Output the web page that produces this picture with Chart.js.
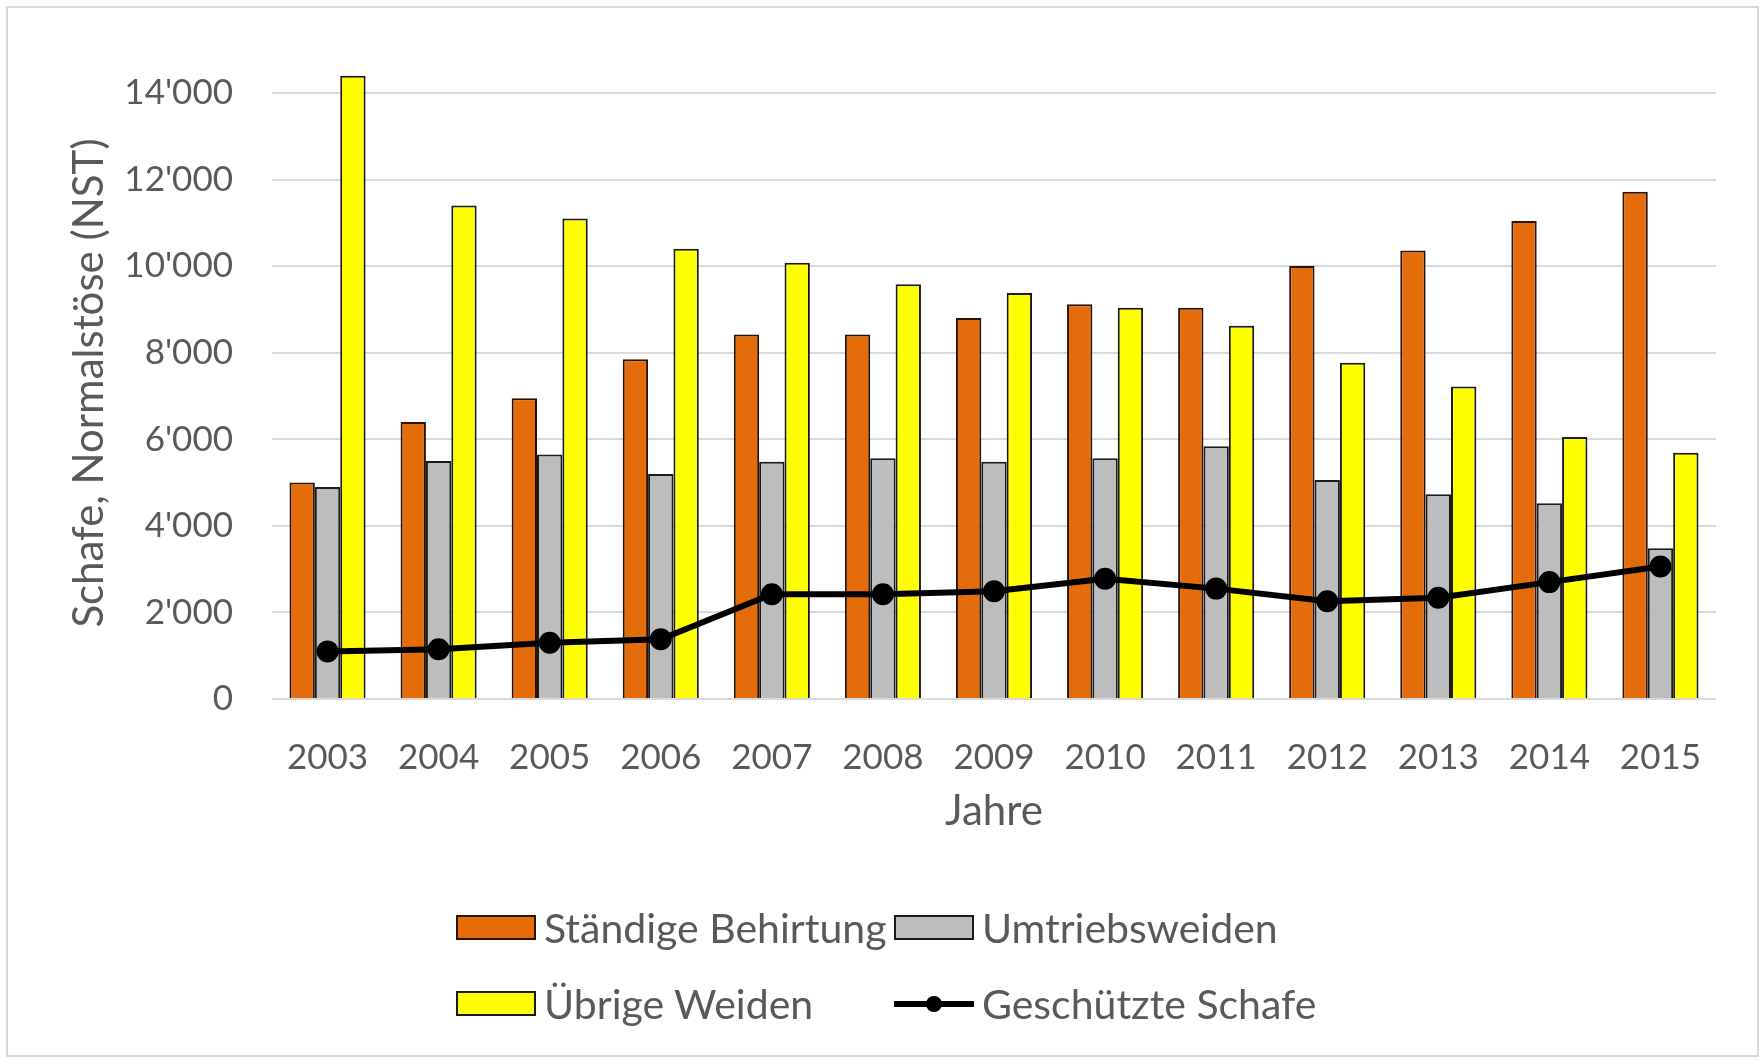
<!DOCTYPE html>
<html lang="de">
<head>
<meta charset="utf-8">
<title>Schafe, Normalstöse</title>
<script src="https://cdn.jsdelivr.net/npm/chart.js@4.4.1/dist/chart.umd.min.js"></script>
<style>
  html, body { margin: 0; padding: 0; background: #fff; }
  #wrap { position: relative; width: 1762px; height: 1060px; overflow: hidden; }
  #frame {
    position: absolute; left: 6px; top: 6px; width: 1753px; height: 1051px;
    border: 2px solid #d9d9d9; box-sizing: border-box;
  }
  #chart { position: absolute; left: 0; top: 0; }
  .item {
    position: absolute; display: flex; align-items: center; height: 50px;
    font-family: Lato, sans-serif; font-size: 41px; color: #595959; white-space: nowrap;
  }
  .box { width: 76px; height: 21px; border: 2px solid #000; margin-right: 8px; }
  .line { position: relative; width: 80px; height: 25px; margin-right: 8px; }
  .line::before {
    content: ''; position: absolute; left: 0; right: 0; top: 10px; height: 6px; background: #000;
  }
  .line::after {
    content: ''; position: absolute; left: 32px; top: 5px; width: 16px; height: 16px;
    border-radius: 50%; background: #000;
  }
</style>
</head>
<body>
<div id="wrap">
  <div id="frame"></div>
  <canvas id="chart" width="1762" height="1060"></canvas>
  <div id="legend"></div>
</div>
<script>
const years = ['2003', '2004', '2005', '2006', '2007', '2008', '2009', '2010', '2011', '2012', '2013', '2014', '2015'];
const staendigeBehirtung = [5000, 6400, 6950, 7850, 8420, 8420, 8800, 9120, 9040, 10000, 10360, 11040, 11720];
const umtriebsweiden = [4900, 5500, 5650, 5200, 5480, 5560, 5480, 5560, 5840, 5060, 4730, 4520, 3480];
const uebrigeWeiden = [14400, 11400, 11100, 10400, 10080, 9580, 9380, 9040, 8620, 7770, 7220, 6050, 5690];
const geschuetzteSchafe = [1100, 1150, 1300, 1380, 2420, 2420, 2490, 2780, 2550, 2260, 2340, 2700, 3060];
const yTicks = [0, 2000, 4000, 6000, 8000, 10000, 12000, 14000];

const textColor = '#595959';
const tickFont = { family: 'Lato', size: 35, lineHeight: 1.2 };
const titleFont = { family: 'Lato', size: 42, lineHeight: 1.2 };

function formatThousands(v) {
  return String(v).replace(/\B(?=(\d{3})+(?!\d))/g, "'");
}

const chart = new Chart(document.getElementById('chart'), {
  type: 'bar',
  data: {
    labels: years,
    datasets: [
      {
        label: 'Ständige Behirtung',
        data: staendigeBehirtung,
        backgroundColor: '#E46C0A',
        borderColor: '#2b1300',
        borderWidth: 2,
        order: 1
      },
      {
        label: 'Umtriebsweiden',
        data: umtriebsweiden,
        backgroundColor: '#BDBDBD',
        borderColor: '#1a1a1a',
        borderWidth: 2,
        order: 1
      },
      {
        label: 'Übrige Weiden',
        data: uebrigeWeiden,
        backgroundColor: '#FFFF00',
        borderColor: '#1a1a1a',
        borderWidth: 2,
        order: 1
      },
      {
        type: 'line',
        label: 'Geschützte Schafe',
        data: geschuetzteSchafe,
        borderColor: '#000',
        backgroundColor: '#000',
        borderWidth: 6,
        pointRadius: 8,
        pointHoverRadius: 8,
        pointBackgroundColor: '#000',
        tension: 0,
        order: 0
      }
    ]
  },
  options: {
    responsive: false,
    animation: false,
    layout: { padding: { left: 0, right: 46, top: 67, bottom: 223 } },
    datasets: {
      bar: { categoryPercentage: 0.685, barPercentage: 1.0 }
    },
    plugins: {
      legend: { display: false },
      tooltip: { enabled: false }
    },
    scales: {
      x: {
        grid: { display: false },
        border: { display: false },
        ticks: { color: textColor, font: tickFont, padding: 30, maxRotation: 0, autoSkip: false },
        title: { display: true, text: 'Jahre', color: textColor, font: titleFont, padding: { top: 0, bottom: 0 } },
        afterFit(scale) { scale.height = 138; }
      },
      y: {
        min: 0,
        max: 14600,
        grid: { color: '#d9d9d9', lineWidth: 2, drawTicks: false },
        border: { display: false },
        ticks: {
          color: textColor,
          font: tickFont,
          padding: 39,
          stepSize: 2000,
          callback: (v) => formatThousands(v)
        },
        afterBuildTicks(scale) {
          scale.ticks = yTicks.map(value => ({ value }));
        },
        title: {
          display: true,
          text: 'Schafe, Normalstöse (NST)',
          color: textColor,
          font: titleFont,
          padding: { top: 64, bottom: 0 }
        },
        afterFit(scale) { scale.width = 272; }
      }
    }
  }
});

// legend in two columns, built from the datasets
const legendCols = [456, 894];
const legendRows = [902, 978];
const legend = document.getElementById('legend');
chart.data.datasets.forEach((ds, i) => {
  const item = document.createElement('div');
  item.className = 'item';
  item.style.left = legendCols[i % 2] + 'px';
  item.style.top = legendRows[Math.floor(i / 2)] + 'px';
  const sym = document.createElement('div');
  if (ds.type === 'line') {
    sym.className = 'line';
  } else {
    sym.className = 'box';
    sym.style.background = ds.backgroundColor;
    sym.style.borderColor = ds.borderColor;
  }
  const text = document.createElement('span');
  text.textContent = ds.label;
  item.appendChild(sym);
  item.appendChild(text);
  legend.appendChild(item);
});
</script>
</body>
</html>
